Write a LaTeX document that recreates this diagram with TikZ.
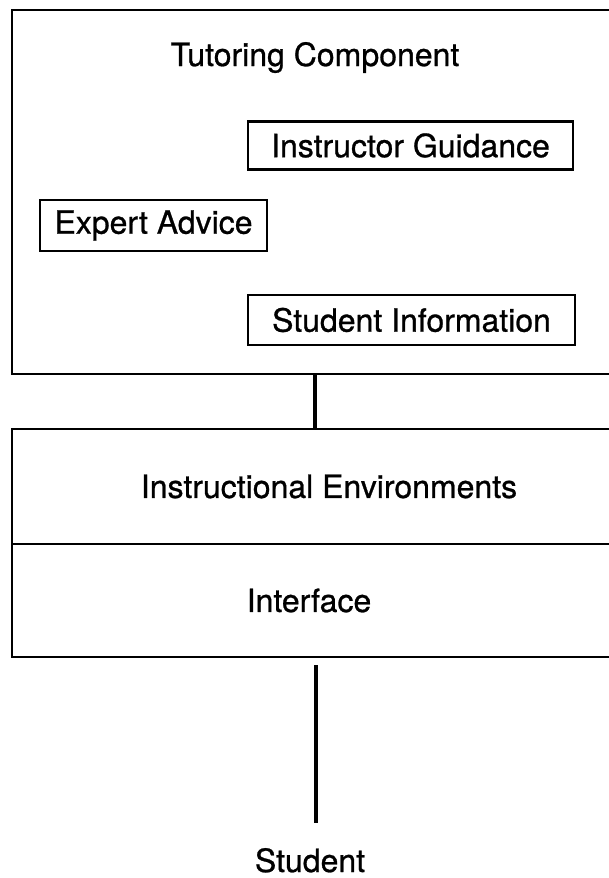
\documentclass[tikz,border=0pt]{standalone}
\usepackage{fontspec}
\setmainfont[FakeBold=0.8]{TeX Gyre Heros}
\usetikzlibrary{positioning}
\tikzstyle{frame}=[draw,line width=2.6pt,inner sep=0pt,outer sep=0pt,minimum width=700pt]
\tikzstyle{infobox}=[draw,line width=2.6pt,inner sep=0pt,minimum height=48pt]
\tikzstyle{link}=[line width=3.6pt]

\begin{document}
\begin{tikzpicture}[x=1pt,y=-1pt,font=\fontsize{32}{38}\selectfont]
\useasboundingbox (0,0) rectangle (609,878);
\clip (0,0) rectangle (609,878);
% tutoring component
\node [frame,minimum height=364pt] (tutor) at (362,192) {};
\node [anchor=base] (tutortitle) at (315,66) {Tutoring Component};
\node [infobox,minimum width=325pt] (guidance) at (410.5,145.5) {Instructor Guidance};
\node [infobox,minimum width=227pt,minimum height=51pt] (expert) at (153.5,225.5) {Expert Advice};
\node [infobox,minimum width=327pt,minimum height=50pt] (studinfo) at (411.5,320) {Student Information};
% environments and interface
\node [frame,minimum height=115pt] (env) at (362,486.5) {};
\node [frame,minimum height=113pt,below=0pt of env] (iface) {};
\node (envtext) at (env.center -| 329,0) {Instructional Environments};
\node (ifacetext) at (iface.center -| 309,0) {Interface};
\node [anchor=base] (student) at (310,872) {Student};
% links
\draw [link] (tutor.south -| 315,0) -- (env.north -| 315,0);
\draw [link] ([yshift=-8pt]iface.south -| 316,0) -- ([yshift=22pt]student.north -| 316,0);
\end{tikzpicture}
\end{document}
